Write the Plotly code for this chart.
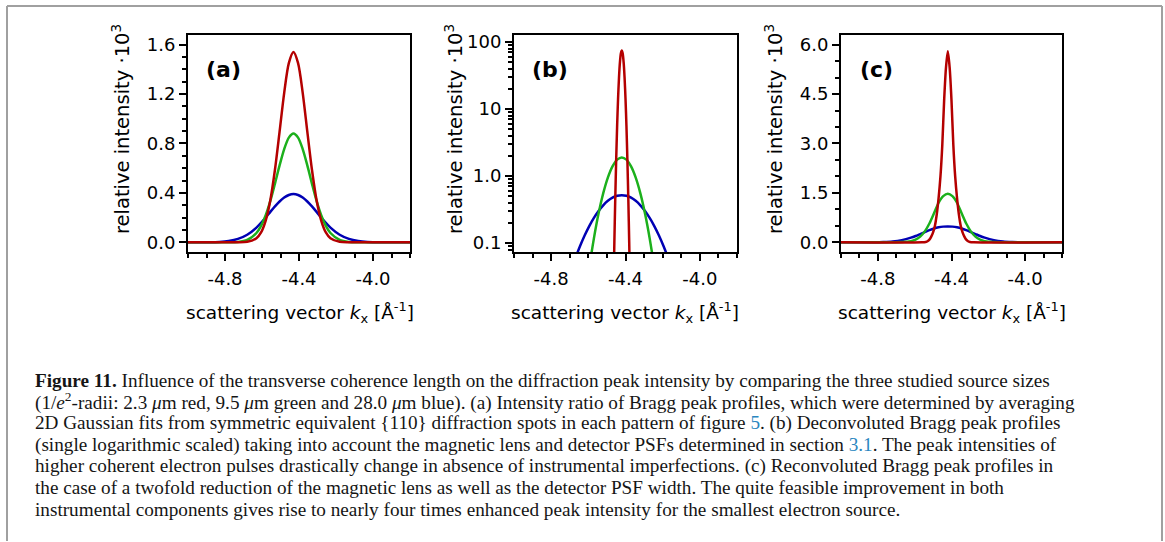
import plotly.graph_objects as go

# ---------------- (a) Bragg peak profiles (averaged 2D Gaussian fits) ----------------
kx_a = [-5.0, -4.83, -4.78, -4.73, -4.68, -4.63, -4.605, -4.58, -4.555, -4.53, -4.505, -4.48, -4.455,
        -4.43, -4.405, -4.38, -4.355, -4.33, -4.305, -4.28, -4.255, -4.23, -4.18, -4.13, -4.08, -4.03, -3.8]
blue_a = [0, 0.003, 0.010, 0.027, 0.061, 0.119, 0.158, 0.200, 0.246, 0.290, 0.330, 0.362, 0.383,
          0.39, 0.383, 0.362, 0.330, 0.290, 0.246, 0.200, 0.158, 0.119, 0.061, 0.027, 0.010, 0.003, 0]
green_a = [0, 0, 0, 0.003, 0.019, 0.075, 0.133, 0.219, 0.335, 0.475, 0.622, 0.754, 0.847,
           0.88, 0.847, 0.754, 0.622, 0.475, 0.335, 0.219, 0.133, 0.075, 0.019, 0.003, 0, 0, 0]
red_a = [0, 0, 0, 0, 0.004, 0.033, 0.080, 0.176, 0.341, 0.587, 0.895, 1.210, 1.450,
         1.54, 1.450, 1.210, 0.895, 0.587, 0.341, 0.176, 0.080, 0.033, 0.004, 0, 0, 0, 0]

# ---------------- (b) deconvoluted profiles (log scale) ----------------
kx_b_blue = [-4.72, -4.695, -4.67, -4.645, -4.62, -4.595, -4.57, -4.545, -4.52, -4.495, -4.47, -4.445,
             -4.42, -4.395, -4.37, -4.345, -4.32, -4.295, -4.27, -4.245, -4.22, -4.195, -4.17, -4.145, -4.12]
blue_b = [0.0228, 0.0377, 0.0594, 0.0897, 0.130, 0.180, 0.238, 0.302, 0.367, 0.428, 0.477, 0.509,
          0.52, 0.509, 0.477, 0.428, 0.367, 0.302, 0.238, 0.180, 0.130, 0.0897, 0.0594, 0.0377, 0.0228]
kx_b_green = [-4.62, -4.595, -4.57, -4.545, -4.52, -4.495, -4.47, -4.445, -4.42,
              -4.395, -4.37, -4.345, -4.32, -4.295, -4.27, -4.245, -4.22]
green_b = [0.0135, 0.0431, 0.118, 0.276, 0.552, 0.948, 1.395, 1.759, 1.9,
           1.759, 1.395, 0.948, 0.552, 0.276, 0.118, 0.0431, 0.0135]
kx_b_red = [-4.465, -4.46, -4.455, -4.45, -4.445, -4.44, -4.435, -4.43, -4.425, -4.42,
            -4.415, -4.41, -4.405, -4.40, -4.395, -4.39, -4.385, -4.38, -4.375]
red_b = [0.0174, 0.101, 0.475, 1.82, 5.67, 14.4, 29.6, 49.6, 67.6, 75,
         67.6, 49.6, 29.6, 14.4, 5.67, 1.82, 0.475, 0.101, 0.0174]

# ---------------- (c) reconvoluted profiles (halved PSF widths) ----------------
kx_c_blue = [-5.0, -4.82, -4.77, -4.72, -4.67, -4.62, -4.595, -4.57, -4.545, -4.52, -4.495, -4.47, -4.445,
             -4.42, -4.395, -4.37, -4.345, -4.32, -4.295, -4.27, -4.245, -4.22, -4.17, -4.12, -4.07, -4.02, -3.8]
blue_c = [0, 0, 0.008, 0.025, 0.065, 0.14, 0.19, 0.25, 0.31, 0.37, 0.42, 0.455, 0.475,
          0.48, 0.475, 0.455, 0.42, 0.37, 0.31, 0.25, 0.19, 0.14, 0.065, 0.025, 0.008, 0, 0]
kx_c_green = [-5.0, -4.72, -4.67, -4.62, -4.595, -4.57, -4.545, -4.52, -4.495, -4.47, -4.445,
              -4.42, -4.395, -4.37, -4.345, -4.32, -4.295, -4.27, -4.245, -4.22, -4.17, -4.12, -3.8]
green_c = [0, 0, 0.005, 0.035, 0.08, 0.17, 0.33, 0.57, 0.88, 1.2, 1.40,
           1.47, 1.40, 1.2, 0.88, 0.57, 0.33, 0.17, 0.08, 0.035, 0.005, 0, 0]
kx_c_red = [-5.0, -4.56, -4.54, -4.53, -4.52, -4.51, -4.50, -4.49, -4.48, -4.47, -4.46, -4.45, -4.44, -4.43,
            -4.42, -4.41, -4.40, -4.39, -4.38, -4.37, -4.36, -4.35, -4.34, -4.33, -4.32, -4.31, -4.30, -4.28, -3.8]
red_c = [0, 0, 0.01, 0.03, 0.08, 0.17, 0.3, 0.5, 0.85, 1.35, 2.0, 2.95, 4.3, 5.3,
         5.8, 5.3, 4.3, 2.95, 2.0, 1.35, 0.85, 0.5, 0.3, 0.17, 0.08, 0.03, 0.01, 0, 0]

# ---------------- axis ticks ----------------
kx_range = [-5.0, -3.8]
kx_ticks = [-4.8, -4.4, -4.0]
kx_labels = ["-4.8", "-4.4", "-4.0"]
ya_range = [-0.08, 1.68]
ya_ticks = [0, 0.4, 0.8, 1.2, 1.6]
ya_labels = ["0.0", "0.4", "0.8", "1.2", "1.6"]
yb_range = [-1.134, 2.108]
yb_ticks = [0.1, 1, 10, 100]
yb_labels = ["0.1", "1.0", "10", "100"]
yb_minor = [0.08, 0.09, 0.2, 0.3, 0.4, 0.5, 0.6, 0.7, 0.8, 0.9,
            2, 3, 4, 5, 6, 7, 8, 9, 20, 30, 40, 50, 60, 70, 80, 90]
yc_range = [-0.3, 6.3]
yc_ticks = [0, 1.5, 3.0, 4.5, 6.0]
yc_labels = ["0.0", "1.5", "3.0", "4.5", "6.0"]

RED, GREEN, BLUE = "#b40000", "#1cb01c", "#0000b4"
SANS = "DejaVu Sans"
SERIF = "Liberation Serif"
W, H = 1165, 542

fig = go.Figure()


def add_profile(x, y, color, xa, ya):
    fig.add_trace(go.Scatter(x=x, y=y, mode="lines", xaxis=xa, yaxis=ya,
                             line=dict(color=color, width=2.5, shape="spline", smoothing=0.8),
                             showlegend=False, hoverinfo="skip"))


add_profile(kx_a, blue_a, BLUE, "x", "y")
add_profile(kx_a, green_a, GREEN, "x", "y")
add_profile(kx_a, red_a, RED, "x", "y")
add_profile(kx_b_blue, blue_b, BLUE, "x2", "y2")
add_profile(kx_b_green, green_b, GREEN, "x2", "y2")
add_profile(kx_b_red, red_b, RED, "x2", "y2")
add_profile(kx_c_blue, blue_c, BLUE, "x3", "y3")
add_profile(kx_c_green, green_c, GREEN, "x3", "y3")
add_profile(kx_c_red, red_c, RED, "x3", "y3")

x_domains = [[188 / W, 410 / W], [514 / W, 737 / W], [841 / W, 1062 / W]]
y_domain = [1 - 251 / H, 1 - 32 / H]


def x_axis(dom, anchor, top=False, overlay=None):
    ax = dict(domain=dom, anchor=anchor, range=kx_range, tickmode="array",
              tickvals=kx_ticks, ticktext=kx_labels, showgrid=False, zeroline=False,
              ticklen=7, tickwidth=1.5, tickcolor="black",
              minor=dict(tick0=-5.0, dtick=0.1, ticklen=4, tickwidth=1.5, tickcolor="black",
                         ticks="inside" if top else "outside"),
              tickfont=dict(family=SANS, size=18, color="black"), ticklabelstandoff=2)
    if top:
        ax.update(side="top", overlaying=overlay, ticks="inside", showticklabels=False, showline=False)
    else:
        ax.update(ticks="outside", showline=True, linecolor="black", linewidth=2, mirror=True)
    return ax


def y_axis(anchor, rng, ticks, labels, minor, log=False, right=False, overlay=None):
    ax = dict(domain=y_domain, anchor=anchor, range=rng, tickmode="array",
              tickvals=ticks, ticktext=labels, showgrid=False, zeroline=False,
              ticklen=7, tickwidth=1.5, tickcolor="black",
              tickfont=dict(family=SANS, size=18, color="black"))
    mn = dict(ticklen=4, tickwidth=1.5, tickcolor="black", ticks="inside" if right else "outside")
    mn.update(minor)
    ax["minor"] = mn
    if log:
        ax["type"] = "log"
    if right:
        ax.update(side="right", overlaying=overlay, ticks="inside", showticklabels=False, showline=False)
    else:
        ax.update(ticks="outside", showline=True, linecolor="black", linewidth=2, mirror=True)
    return ax


minor_a = dict(tick0=0, dtick=0.1)
minor_b = dict(tickmode="array", tickvals=yb_minor)
minor_c = dict(tick0=0, dtick=0.5)

fig.update_layout(
    xaxis=x_axis(x_domains[0], "y"),
    xaxis2=x_axis(x_domains[1], "y2"),
    xaxis3=x_axis(x_domains[2], "y3"),
    xaxis4=x_axis(x_domains[0], "y", top=True, overlay="x"),
    xaxis5=x_axis(x_domains[1], "y2", top=True, overlay="x2"),
    xaxis6=x_axis(x_domains[2], "y3", top=True, overlay="x3"),
    yaxis=y_axis("x", ya_range, ya_ticks, ya_labels, minor_a),
    yaxis2=y_axis("x2", yb_range, yb_ticks, yb_labels, minor_b, log=True),
    yaxis3=y_axis("x3", yc_range, yc_ticks, yc_labels, minor_c),
    yaxis4=y_axis("x", ya_range, ya_ticks, ya_labels, minor_a, right=True, overlay="y"),
    yaxis5=y_axis("x2", yb_range, yb_ticks, yb_labels, minor_b, log=True, right=True, overlay="y2"),
    yaxis6=y_axis("x3", yc_range, yc_ticks, yc_labels, minor_c, right=True, overlay="y3"),
)

annotations = []

# panel letters
for cx, letter in [(223, "(a)"), (550, "(b)"), (876, "(c)")]:
    annotations.append(dict(x=cx / W, y=1 - 67 / H, xref="paper", yref="paper", showarrow=False,
                            text="<b>%s</b>" % letter, xanchor="center", yanchor="middle",
                            font=dict(family=SANS, size=22, color="black")))

# axis titles
for cx in [299.5, 624.7, 951.7]:
    annotations.append(dict(x=cx / W, y=1 - 312 / H, xref="paper", yref="paper", showarrow=False,
                            text="scattering vector <i>k</i><sub>x</sub> [Å<sup>-1</sup>]",
                            xanchor="center", yanchor="middle",
                            font=dict(family=SANS, size=18.5, color="black")))
for cx in [121, 454, 774]:
    annotations.append(dict(x=cx / W, y=1 - 127 / H, xref="paper", yref="paper", showarrow=False,
                            text="relative intensity ·10<sup>3</sup>", textangle=-90,
                            xanchor="center", yanchor="middle",
                            font=dict(family=SANS, size=19.5, color="black")))

# caption
LINK = "#2a86c0"
caption = [
    "<b>Figure 11.</b> Influence of the transverse coherence length on the diffraction peak intensity by comparing the three studied source sizes",
    "(1/<i>e</i><sup>2</sup>-radii: 2.3 <i>μ</i>m red, 9.5 <i>μ</i>m green and 28.0 <i>μ</i>m blue). (a) Intensity ratio of Bragg peak profiles, which were determined by averaging",
    "2D Gaussian fits from symmetric equivalent {110} diffraction spots in each pattern of figure <span style='color:%s'>5</span>. (b) Deconvoluted Bragg peak profiles" % LINK,
    "(single logarithmic scaled) taking into account the magnetic lens and detector PSFs determined in section <span style='color:%s'>3.1</span>. The peak intensities of" % LINK,
    "higher coherent electron pulses drastically change in absence of instrumental imperfections. (c) Reconvoluted Bragg peak profiles in",
    "the case of a twofold reduction of the magnetic lens as well as the detector PSF width. The quite feasible improvement in both",
    "instrumental components gives rise to nearly four times enhanced peak intensity for the smallest electron source.",
]
for i, line in enumerate(caption):
    annotations.append(dict(x=33 / W, y=1 - (380 + 21.67 * i) / H, xref="paper", yref="paper",
                            showarrow=False, text=line, xanchor="left", yanchor="middle",
                            font=dict(family=SERIF, size=19.2, color="#151515")))

# page frame
frame = dict(type="line", xref="paper", yref="paper", line=dict(color="#a0a0a0", width=2))
shapes = [
    dict(frame, x0=7 / W, x1=1162 / W, y0=1 - 3 / H, y1=1 - 3 / H),
    dict(frame, x0=7 / W, x1=7 / W, y0=0, y1=1 - 3 / H),
    dict(frame, x0=1162 / W, x1=1162 / W, y0=0, y1=1 - 3 / H),
]

fig.update_layout(width=W, height=H, margin=dict(l=0, r=0, t=0, b=0),
                  paper_bgcolor="white", plot_bgcolor="white",
                  annotations=annotations, shapes=shapes, showlegend=False)

fig.write_html("out.html")
